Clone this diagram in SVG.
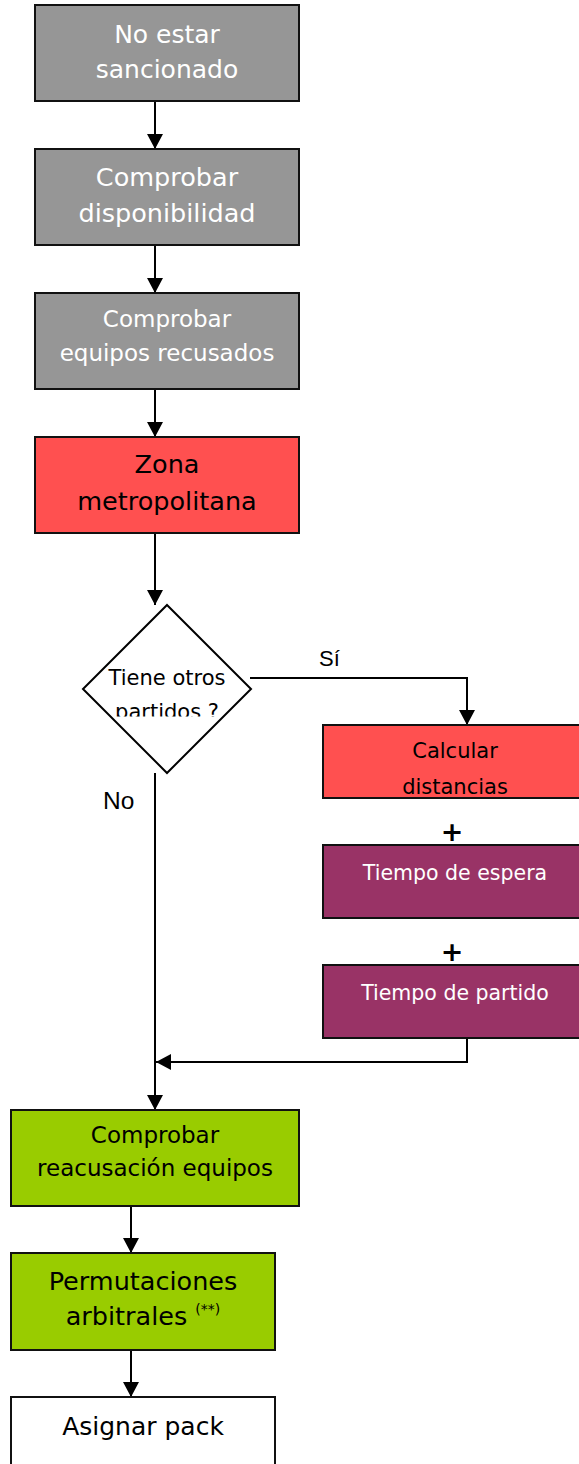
<svg xmlns="http://www.w3.org/2000/svg" width="579" height="1464" viewBox="0 0 579 1464">
<style>
.box{stroke:#111;stroke-width:2}
.gray{fill:#969696}
.red{fill:#FF5050}
.purple{fill:#993366}
.green{fill:#99CC00}
.white{fill:#fff}
.t{font-family:"DejaVu Sans",Verdana,sans-serif;text-anchor:middle}
.tw{fill:#fff}
.tb{fill:#000}
.lbl{font-family:"Liberation Sans",Arial,sans-serif;fill:#000}
.plus{font-family:"DejaVu Sans",sans-serif;font-weight:bold;font-size:27px;text-anchor:middle;fill:#000}
.c{fill:none;stroke:#000;stroke-width:2}
</style>
<defs>
<marker id="ah" viewBox="0 0 15 16" refX="15" refY="8" markerWidth="15" markerHeight="16" markerUnits="userSpaceOnUse" orient="auto">
<path d="M0,0 L15,8 L0,16 z" fill="#000"/>
</marker>
<clipPath id="dclip"><rect x="80" y="600" width="175" height="116.5"/></clipPath>
</defs>
<rect width="579" height="1464" fill="#fff"/>

<g id="connectors">
<line class="c" x1="155" y1="101" x2="155" y2="149" marker-end="url(#ah)"/>
<line class="c" x1="155" y1="245" x2="155" y2="293" marker-end="url(#ah)"/>
<line class="c" x1="155" y1="389" x2="155" y2="437" marker-end="url(#ah)"/>
<line class="c" x1="155" y1="533" x2="155" y2="605" marker-end="url(#ah)"/>
<polyline class="c" points="250,678 467,678 467,725" marker-end="url(#ah)"/>
<line class="c" x1="155" y1="773" x2="155" y2="1110" marker-end="url(#ah)"/>
<polyline class="c" points="467,1038 467,1062 156,1062" marker-end="url(#ah)"/>
<line class="c" x1="131" y1="1206" x2="131" y2="1253" marker-end="url(#ah)"/>
<line class="c" x1="131" y1="1350" x2="131" y2="1397" marker-end="url(#ah)"/>
<text class="lbl" x="319" y="666" font-size="22">Sí</text>
<text class="lbl" x="103" y="809" font-size="24.5">No</text>
</g>

<g id="n1">
<rect class="box gray" x="35" y="5" width="264" height="96"/>
<text class="t tw" x="167" y="43" font-size="25">No estar</text>
<text class="t tw" x="167" y="78" font-size="25">sancionado</text>
</g>
<g id="n2">
<rect class="box gray" x="35" y="149" width="264" height="96"/>
<text class="t tw" x="167" y="186" font-size="25.5">Comprobar</text>
<text class="t tw" x="167" y="222" font-size="25.5">disponibilidad</text>
</g>
<g id="n3">
<rect class="box gray" x="35" y="293" width="264" height="96"/>
<text class="t tw" x="167" y="327" font-size="23">Comprobar</text>
<text class="t tw" x="167" y="361" font-size="23">equipos recusados</text>
</g>
<g id="n4">
<rect class="box red" x="35" y="437" width="264" height="96"/>
<text class="t tb" x="167" y="473" font-size="25.5">Zona</text>
<text class="t tb" x="167" y="510" font-size="25.5">metropolitana</text>
</g>
<g id="n5">
<polygon points="167,605 251,689 167,773 83,689" fill="#fff" stroke="#000" stroke-width="2"/>
<g clip-path="url(#dclip)">
<text class="t tb" x="167" y="685" font-size="21">Tiene otros</text>
<text class="t tb" x="167" y="718.5" font-size="21">partidos ?</text>
</g>
</g>
<g id="n6">
<rect class="box red" x="323" y="725" width="264" height="73"/>
<text class="t tb" x="455" y="758" font-size="21">Calcular</text>
<text class="t tb" x="455" y="794" font-size="21">distancias</text>
</g>
<text class="plus" x="452" y="841">+</text>
<g id="n7">
<rect class="box purple" x="323" y="845" width="264" height="73"/>
<text class="t tw" x="455" y="880" font-size="20.5">Tiempo de espera</text>
</g>
<text class="plus" x="452" y="961">+</text>
<g id="n8">
<rect class="box purple" x="323" y="965" width="264" height="73"/>
<text class="t tw" x="455" y="1000" font-size="20.5">Tiempo de partido</text>
</g>
<g id="n9">
<rect class="box green" x="11" y="1110" width="288" height="96"/>
<text class="t tb" x="155" y="1143" font-size="23">Comprobar</text>
<text class="t tb" x="155" y="1176" font-size="23">reacusación equipos</text>
</g>
<g id="n10">
<rect class="box green" x="11" y="1253" width="264" height="97"/>
<text class="t tb" x="143" y="1290" font-size="25.5">Permutaciones</text>
<text class="t tb" x="143" y="1325" font-size="25.5">arbitrales <tspan font-size="14" dy="-11">(**)</tspan></text>
</g>
<g id="n11">
<rect class="box white" x="11" y="1397" width="264" height="96"/>
<text class="t tb" x="143" y="1435" font-size="25">Asignar pack</text>
</g>
</svg>
